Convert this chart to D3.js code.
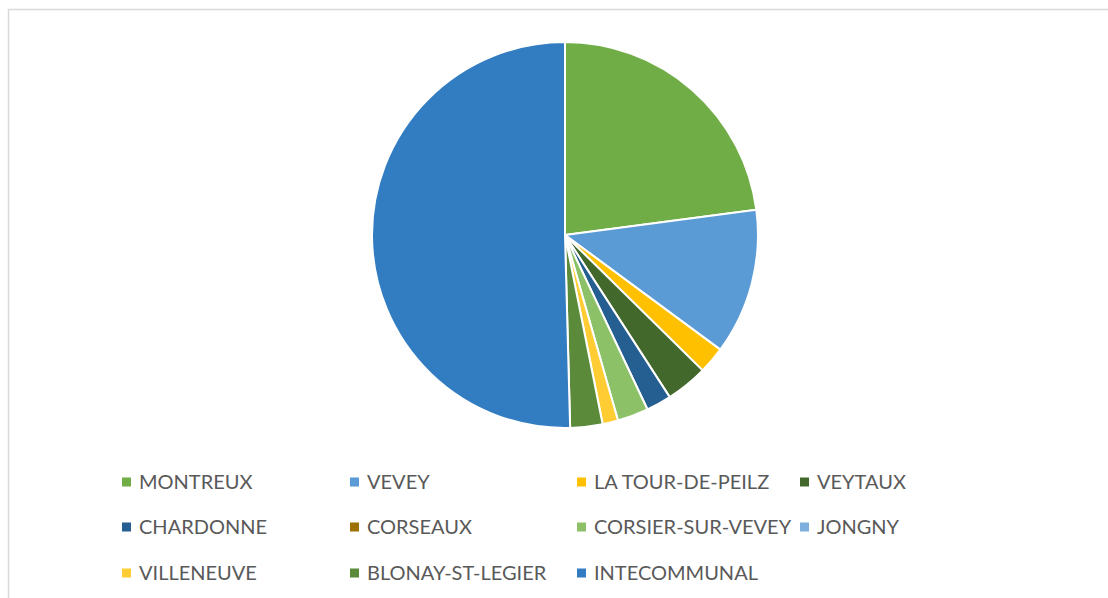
<!DOCTYPE html>
<html>
<head>
<meta charset="utf-8">
<script src="https://cdn.jsdelivr.net/npm/d3@7"></script>
<style>
  body { margin: 0; background: #fff; }
  svg { display: block; }
</style>
</head>
<body>
<div id="chart"></div>
<script>
const width = 1108;
const height = 598;

// communes, in pie order (clockwise from 12 o'clock)
const communes = [
  "MONTREUX", "VEVEY", "LA TOUR-DE-PEILZ", "VEYTAUX",
  "CHARDONNE", "CORSEAUX", "CORSIER-SUR-VEVEY", "JONGNY",
  "VILLENEUVE", "BLONAY-ST-LEGIER", "INTECOMMUNAL"
];
// share of total (%)
const shares = [22.9, 12.2, 2.25, 3.5, 2.1, 0, 2.6, 0, 1.3, 2.7, 50.4];
const colors = [
  "#70ad47", "#5b9bd5", "#ffc000", "#43682b",
  "#255e91", "#9e7000", "#8cc168", "#7cafdd",
  "#ffcd33", "#5a8a3a", "#327dc2"
];

const pieData = communes.map((name, i) => ({ name, value: shares[i] }));

const color = d3.scaleOrdinal()
  .domain(communes)
  .range(colors);

const svg = d3.select("#chart")
  .append("svg")
  .attr("width", width)
  .attr("height", height);

// chart area frame (only top and left edges show)
svg.append("rect")
  .attr("x", 8.5)
  .attr("y", 9.5)
  .attr("width", width + 20)
  .attr("height", height + 20)
  .attr("fill", "#fff")
  .attr("stroke", "#d9d9d9")
  .attr("stroke-width", 1.5);

const cx = 565;
const cy = 235;
const radius = 193;

const pie = d3.pie()
  .sort(null)
  .value(d => d.value);

const arc = d3.arc()
  .innerRadius(0)
  .outerRadius(radius);

svg.append("g")
  .attr("transform", `translate(${cx},${cy})`)
  .selectAll("path")
  .data(pie(pieData).filter(d => d.data.value > 0))
  .join("path")
  .attr("d", arc)
  .attr("fill", d => color(d.data.name))
  .attr("stroke", "#fff")
  .attr("stroke-width", 2)
  .attr("stroke-linejoin", "round");

// legend: 4 columns x 3 rows
const colX = [122, 350, 577, 800];
const rowY = [482, 527, 573];

const legend = svg.append("g")
  .selectAll("g")
  .data(communes)
  .join("g")
  .attr("transform", (d, i) => `translate(${colX[i % 4]},${rowY[Math.floor(i / 4)]})`);

legend.append("rect")
  .attr("x", 0)
  .attr("y", -4.5)
  .attr("width", 9)
  .attr("height", 9)
  .attr("fill", d => color(d));

legend.append("text")
  .attr("x", 17)
  .attr("y", 0)
  .attr("dy", "0.36em")
  .attr("font-family", "Lato, sans-serif")
  .attr("font-size", 20)
  .attr("fill", "#595959")
  .text(d => d);
</script>
</body>
</html>
